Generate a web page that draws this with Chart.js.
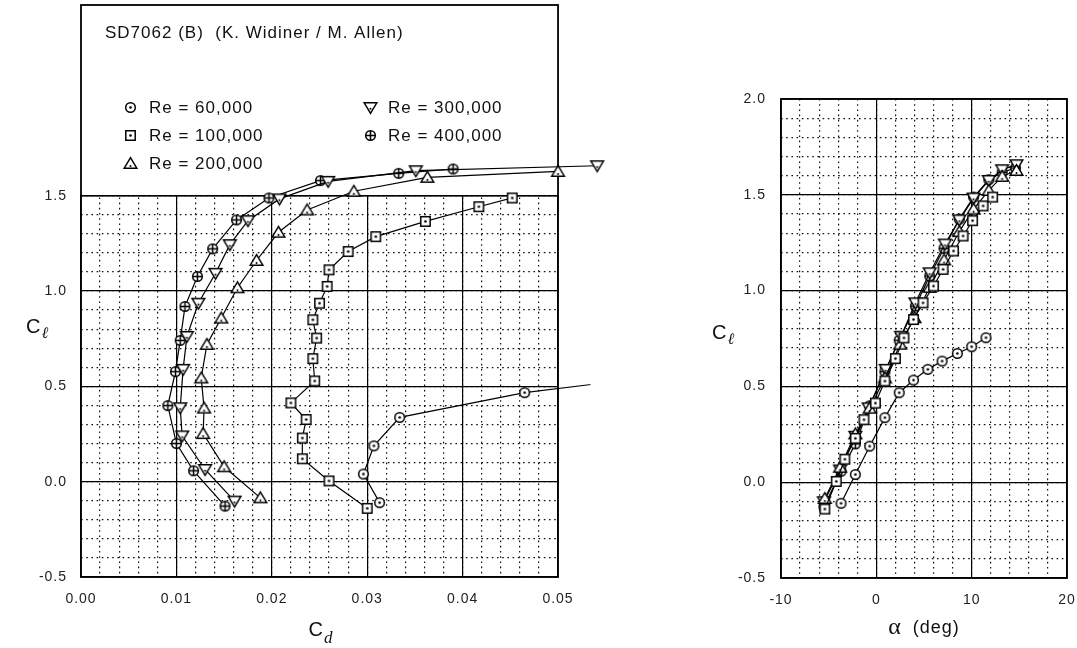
<!DOCTYPE html>
<html><head><meta charset="utf-8">
<script src="https://cdn.jsdelivr.net/npm/chart.js@4/dist/chart.umd.min.js"></script>
<style>
html,body{margin:0;padding:0;background:#fff;width:1077px;height:648px;overflow:hidden}
#c1{position:absolute;left:0;top:0}
#c2{position:absolute;left:620px;top:0}
</style></head><body>
<canvas id="c1" width="620" height="648"></canvas>
<canvas id="c2" width="457" height="648"></canvas>
<script>
// ---------------- data ----------------
const chartTitle = 'SD7062 (B)  (K. Widiner / M. Allen)';
const reLabels = ['Re = 60,000','Re = 100,000','Re = 200,000','Re = 300,000','Re = 400,000'];

const cl60  = [-0.110, 0.040, 0.188, 0.337, 0.467, 0.533, 0.589, 0.632, 0.672, 0.707, 0.754];
const cd60  = [0.0313, 0.0296, 0.0307, 0.0334, 0.0465, 0.0573];
const al60  = [-3.7, -2.2, -0.7, 0.9, 2.4, 3.9, 5.4, 6.9, 8.5, 10.0, 11.5];

const cl100 = [-0.140, 0.004, 0.120, 0.229, 0.326, 0.413, 0.528, 0.645, 0.753, 0.849, 0.936, 1.024, 1.111, 1.207, 1.285, 1.365, 1.442, 1.488];
const cd100 = [0.0300, 0.0260, 0.0232, 0.0232, 0.0236, 0.0220, 0.0245, 0.0243, 0.0247, 0.0243, 0.0250, 0.0258, 0.0260, 0.0280, 0.0309, 0.0361, 0.0417, 0.0452];
const al100 = [-5.4, -4.2, -3.3, -2.2, -1.3, -0.1, 0.9, 2.0, 2.9, 3.9, 4.9, 6.0, 7.0, 8.1, 9.1, 10.1, 11.2, 12.2];

const cl200 = [-0.085, 0.078, 0.252, 0.386, 0.544, 0.720, 0.858, 1.017, 1.160, 1.308, 1.425, 1.523, 1.596, 1.627];
const cd200 = [0.0188, 0.0150, 0.0128, 0.0129, 0.0126, 0.0132, 0.0147, 0.0164, 0.0184, 0.0207, 0.0237, 0.0286, 0.0363, 0.0500];
const al200 = [-5.4, -3.8, -2.2, -0.7, 0.9, 2.5, 4.0, 5.6, 7.1, 8.7, 10.2, 11.8, 13.2, 14.7];

const cl300 = [-0.102, 0.064, 0.240, 0.388, 0.589, 0.762, 0.936, 1.093, 1.243, 1.369, 1.483, 1.575, 1.631, 1.657];
const cd300 = [0.0161, 0.0130, 0.0106, 0.0104, 0.0107, 0.0111, 0.0123, 0.0141, 0.0156, 0.0175, 0.0208, 0.0259, 0.0351, 0.0541];
const al300 = [-5.5, -3.8, -2.2, -0.8, 1.0, 2.6, 4.1, 5.6, 7.2, 8.7, 10.2, 11.8, 13.2, 14.7];

const cl400 = [-0.128, 0.057, 0.200, 0.399, 0.577, 0.741, 0.919, 1.076, 1.221, 1.373, 1.488, 1.579, 1.617, 1.640];
const cd400 = [0.0151, 0.0118, 0.0100, 0.0091, 0.0099, 0.0104, 0.0109, 0.0122, 0.0138, 0.0163, 0.0197, 0.0251, 0.0333, 0.0390];
const al400 = [-5.5, -3.7, -2.2, -0.7, 0.9, 2.4, 4.1, 5.6, 7.1, 8.7, 10.2, 11.8, 13.2, 14.6];

// tick labels / axis ranges
const cdTicks   = [0, 0.01, 0.02, 0.03, 0.04, 0.05];
const clTicksL  = [-0.5, 0, 0.5, 1.0, 1.5];
const alTicks   = [-10, 0, 10, 20];
const clTicksR  = [-0.5, 0, 0.5, 1.0, 1.5, 2.0];
const cdMinorStep = 0.002, clMinorStep = 0.1, alMinorStep = 2;
const cdGridMax = 0.05, clGridMaxL = 1.5;     // gridded region of the polar plot
const cdViewMax = 0.0555, clViewMaxL = 2.5;   // full extent incl. legend box / overflow

// ---------------- markers ----------------
function marker(kind){
  const s=17, c=document.createElement('canvas'); c.width=s; c.height=s;
  const g=c.getContext('2d'); g.lineWidth=1.5; g.strokeStyle='#000'; g.fillStyle='#fff';
  const m=s/2;
  g.beginPath();
  if(kind==='circle'||kind==='cplus'){ g.arc(m,m,4.8,0,2*Math.PI); }
  else if(kind==='square'){ g.rect(m-4.7,m-4.7,9.4,9.4); }
  else if(kind==='tri'){ g.moveTo(m,m-5.9); g.lineTo(m+6.3,m+4.7); g.lineTo(m-6.3,m+4.7); g.closePath(); }
  else if(kind==='itri'){ g.moveTo(m,m+5.9); g.lineTo(m+6.3,m-4.7); g.lineTo(m-6.3,m-4.7); g.closePath(); }
  g.fill(); g.stroke();
  g.fillStyle='#000';
  if(kind==='circle'||kind==='square'){ g.beginPath(); g.arc(m,m,1.3,0,2*Math.PI); g.fill(); }
  if(kind==='tri'){ g.beginPath(); g.arc(m,m+2.6,1.0,0,2*Math.PI); g.fill(); }
  if(kind==='itri'){ g.beginPath(); g.arc(m,m+1.2,1.0,0,2*Math.PI); g.fill(); }
  if(kind==='cplus'){ g.beginPath(); g.moveTo(m-4.8,m); g.lineTo(m+4.8,m); g.moveTo(m,m-4.8); g.lineTo(m,m+4.8); g.stroke(); }
  return c;
}
const markers = [marker('circle'), marker('square'), marker('tri'), marker('itri'), marker('cplus')];

const pts = (xs, ys) => xs.map((x,i)=>({x:x, y:ys[i]}));
const polarSeries = [pts(cd60,cl60), pts(cd100,cl100), pts(cd200,cl200), pts(cd300,cl300), pts(cd400,cl400)];
const liftSeries  = [pts(al60,cl60), pts(al100,cl100), pts(al200,cl200), pts(al300,cl300), pts(al400,cl400)];

function minorList(a,b,step){ const n=Math.round((b-a)/step); const r=[]; for(let i=0;i<=n;i++) r.push(a+i*step); return r; }

const SANS = "'Liberation Sans', Arial, Helvetica, sans-serif";
const SERIF = "'Liberation Serif', 'Times New Roman', serif";
const tickFont = {family:SANS, size:14};

function noPad(s){ s.paddingTop=0; s.paddingBottom=0; s.paddingLeft=0; s.paddingRight=0; }

function scalesFor(xr, xMajor, xMinor, yr, yMajor, yMinor, xFmt, yFmt, xH, yW, yPad){
  const majGrid = {color:'#000', lineWidth:1.2, drawTicks:false, z:-1};
  const minGrid = {color:'#111', lineWidth:1.2, drawTicks:false, z:-2, borderDash:[1.6,3.6]};
  return {
    x:{type:'linear', position:'bottom', min:xr[0], max:xr[1],
       afterBuildTicks:s=>{ s.ticks = xMajor.map(v=>({value:v})); },
       afterFit:s=>{ s.height = xH; noPad(s); },
       ticks:{font:tickFont, color:'#222', padding:14, callback:v=>xFmt(v)},
       grid:majGrid, border:{display:false}},
    xm:{type:'linear', position:'bottom', min:xr[0], max:xr[1],
       afterBuildTicks:s=>{ s.ticks = xMinor.map(v=>({value:v})); },
       afterFit:s=>{ s.height = 0; noPad(s); },
       ticks:{display:false}, grid:minGrid, border:{display:false, dash:[1.6,3.6]}},
    y:{type:'linear', position:'left', min:yr[0], max:yr[1],
       afterBuildTicks:s=>{ s.ticks = yMajor.map(v=>({value:v})); },
       afterFit:s=>{ s.width = yW; noPad(s); },
       ticks:{font:tickFont, color:'#222', padding:yPad, callback:v=>yFmt(v)},
       grid:majGrid, border:{display:false}},
    ym:{type:'linear', position:'left', min:yr[0], max:yr[1],
       afterBuildTicks:s=>{ s.ticks = yMinor.map(v=>({value:v})); },
       afterFit:s=>{ s.width = 0; noPad(s); },
       ticks:{display:false}, grid:minGrid, border:{display:false, dash:[1.6,3.6]}}
  };
}

const spacingPlugin = {
  id:'spacing',
  beforeLayout(chart){ chart.ctx.letterSpacing='1px'; },
  beforeDraw(chart){ chart.ctx.letterSpacing='1px'; }
};

function drawSubTitle(ctx, x, base, main, sub, mainFont, subFont, drop){
  ctx.save();
  ctx.fillStyle='#111'; ctx.textBaseline='alphabetic'; ctx.textAlign='left';
  ctx.letterSpacing='0px';
  ctx.font=mainFont; ctx.fillText(main, x, base);
  const w=ctx.measureText(main).width;
  ctx.font=subFont; ctx.fillText(sub, x+w+1, base+drop);
  ctx.restore();
}

const leftDecor = {
  id:'leftDecor',
  beforeDatasetsDraw(chart){
    const ctx=chart.ctx, ca=chart.chartArea, xs=chart.scales.x, ys=chart.scales.y;
    const gx1 = xs.getPixelForValue(cdGridMax);
    const gy1 = ys.getPixelForValue(clGridMaxL);
    const top = ys.getPixelForValue(clViewMaxL);
    const left = xs.getPixelForValue(0), bottom = ys.getPixelForValue(-0.5);
    ctx.save();
    ctx.letterSpacing='0px';
    ctx.fillStyle='#fff';
    ctx.fillRect(ca.left-1, ca.top-1, ca.right-ca.left+2, gy1-ca.top+0.4);
    ctx.fillRect(gx1+0.6, ca.top-1, ca.right-gx1+2, ca.bottom-ca.top+2);
    ctx.strokeStyle='#000'; ctx.lineWidth=1.8;
    ctx.strokeRect(left, top, gx1-left, bottom-top);
    ctx.beginPath(); ctx.lineWidth=1.5; ctx.moveTo(left, gy1); ctx.lineTo(gx1, gy1); ctx.stroke();
    ctx.letterSpacing='1px';
    ctx.fillStyle='#111'; ctx.font='17px '+SANS; ctx.textBaseline='middle'; ctx.textAlign='left';
    ctx.fillText(chartTitle, 105, 33);
    const slots=[[130,149,107],[130,149,135],[130,149,163],[370,388,107],[370,388,135]];
    reLabels.forEach((lab,i)=>{
      const [mx,tx,ty]=slots[i];
      const mk=markers[i];
      ctx.drawImage(mk, Math.round(mx-mk.width/2), Math.round(ty-mk.height/2));
      ctx.fillText(lab, tx, ty+1);
    });
    ctx.restore();
    drawSubTitle(ctx, 26, 333, 'C', 'ℓ', '20px '+SANS, 'italic 16px '+SERIF, 5);
    drawSubTitle(ctx, (left+gx1)/2-11, 636, 'C', 'd', '20px '+SANS, 'italic 17px '+SERIF, 7);
  }
};

const rightDecor = {
  id:'rightDecor',
  afterDraw(chart){
    const ctx=chart.ctx, ca=chart.chartArea;
    ctx.save();
    ctx.letterSpacing='0px';
    ctx.strokeStyle='#000'; ctx.lineWidth=1.8;
    ctx.strokeRect(ca.left, ca.top, ca.right-ca.left, ca.bottom-ca.top);
    ctx.restore();
    drawSubTitle(ctx, 92, 339, 'C', 'ℓ', '20px '+SANS, 'italic 16px '+SERIF, 5);
    ctx.save();
    ctx.fillStyle='#111'; ctx.textBaseline='alphabetic'; ctx.textAlign='left';
    ctx.font='24px '+SERIF; ctx.letterSpacing='0px';
    const a='α'; const wa=ctx.measureText(a).width;
    ctx.font='18px '+SANS; ctx.letterSpacing='1px';
    const d='  (deg)'; const wd=ctx.measureText(d).width;
    const cx=(ca.left+ca.right)/2, x0=cx-(wa+wd)/2;
    ctx.font='24px '+SERIF; ctx.letterSpacing='0px'; ctx.fillText(a, x0, 634);
    ctx.font='18px '+SANS; ctx.letterSpacing='1px'; ctx.fillText(d, x0+wa, 633);
    ctx.restore();
  }
};

function makeDatasets(series, clipFn){
  return series.map((d,i)=>({
    label: reLabels[i], data: d, showLine:true,
    borderColor:'#000', borderWidth:1.2, backgroundColor:'#fff',
    pointStyle: markers[i], pointRadius:5, pointHoverRadius:5,
    clip: clipFn ? clipFn(i) : false,
    xAxisID:'x', yAxisID:'y'
  }));
}

Chart.defaults.font.family = SANS;

new Chart(document.getElementById('c1'), {
  type:'scatter',
  data:{ datasets: makeDatasets(polarSeries, i => (i===0 ? {left:10, top:10, right:-20, bottom:10} : false)) },
  options:{
    responsive:false, animation:false, devicePixelRatio:1,
    layout:{padding:{top:5, right:9.5, left:0, bottom:0}, autoPadding:false},
    plugins:{legend:{display:false}, tooltip:{enabled:false}},
    scales: scalesFor([0,cdViewMax], cdTicks, minorList(0,cdGridMax,cdMinorStep), [-0.5,clViewMaxL], clTicksL, minorList(-0.5,clGridMaxL,clMinorStep),
                      v=>Number(v).toFixed(2), v=>Number(v).toFixed(1), 71, 81, 14)
  },
  plugins:[spacingPlugin, leftDecor]
});

new Chart(document.getElementById('c2'), {
  type:'scatter',
  data:{ datasets: makeDatasets(liftSeries, null) },
  options:{
    responsive:false, animation:false, devicePixelRatio:1,
    layout:{padding:{top:99, right:10, left:0, bottom:0}, autoPadding:false},
    plugins:{legend:{display:false}, tooltip:{enabled:false}},
    scales: scalesFor([-10,20], alTicks, minorList(-10,20,alMinorStep), [-0.5,2.0], clTicksR, minorList(-0.5,2.0,clMinorStep),
                      v=>String(Math.round(v)), v=>Number(v).toFixed(1), 70, 161, 15)
  },
  plugins:[spacingPlugin, rightDecor]
});
</script>
</body></html>
